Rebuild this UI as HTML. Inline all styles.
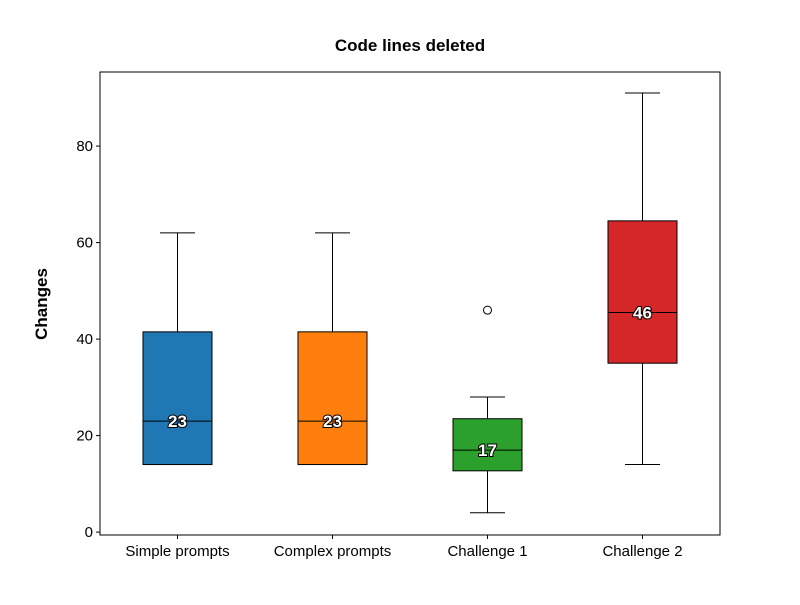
<!DOCTYPE html>
<html><head><meta charset="utf-8"><style>
body{margin:0;background:#fff;}
text{font-family:"Liberation Sans",Arial,sans-serif;}
</style></head><body>
<svg id="chart" width="800" height="600" xmlns="http://www.w3.org/2000/svg">
<rect width="800" height="600" fill="#fff"/>
<text x="410" y="51" text-anchor="middle" font-size="17" font-weight="bold">Code lines deleted</text>
<text transform="translate(47,304) rotate(-90)" text-anchor="middle" font-size="17" font-weight="bold">Changes</text>
<g id="plot"></g>
</svg>
<script>
const categories=["Simple prompts","Complex prompts","Challenge 1","Challenge 2"];
const whiskerLow=[14,14,4,14];
const q1=[14,14,12.7,35];
const medians=[23,23,17,45.5];
const q3=[41.5,41.5,23.5,64.5];
const whiskerHigh=[62,62,28,91];
const medianLabels=["23","23","17","46"];
const outliers=[[],[],[46],[]];
const colors=["#1f77b4","#ff7f0e","#2ca02c","#d62728"];
const yTicks=[0,20,40,60,80];

const L=100,R=720,T=72,B=535,ymin=-0.6,ymax=95.35;
const ys=v=>B-(v-ymin)/(ymax-ymin)*(B-T);
const step=(R-L)/categories.length;
const xs=i=>L+step*(i+0.5);
const NS="http://www.w3.org/2000/svg";
const g=document.getElementById('plot');
function mk(tag,attrs){const e=document.createElementNS(NS,tag);for(const k in attrs)e.setAttribute(k,attrs[k]);g.appendChild(e);return e;}
const bw=69,cw=35;
categories.forEach((c,i)=>{
  const x=xs(i);
  let e=mk('line',{x1:x,x2:x,y1:ys(whiskerLow[i]),y2:ys(q1[i]),stroke:'#000'});
  
  
  e=mk('line',{x1:x,x2:x,y1:ys(q3[i]),y2:ys(whiskerHigh[i]),stroke:'#000'});
  
  
  e=mk('line',{x1:x-cw/2,x2:x+cw/2,y1:ys(whiskerLow[i]),y2:ys(whiskerLow[i]),stroke:'#000'});
  
  
  e=mk('line',{x1:x-cw/2,x2:x+cw/2,y1:ys(whiskerHigh[i]),y2:ys(whiskerHigh[i]),stroke:'#000'});
  
  
  e=mk('rect',{x:x-bw/2,y:ys(q3[i]),width:bw,height:ys(q1[i])-ys(q3[i]),fill:colors[i],stroke:'#000'});
  
  
  e=mk('line',{x1:x-bw/2,x2:x+bw/2,y1:ys(medians[i]),y2:ys(medians[i]),stroke:'#000'});
  
  
  outliers[i].forEach(o=>{
    const p=mk('circle',{cx:x,cy:ys(o),r:4,fill:'none',stroke:'#000'});
    
    
  });
  e=mk('text',{x:x,y:ys(medians[i])+6,'text-anchor':'middle','font-size':17,'font-weight':'bold',fill:'#fff',stroke:'#000','stroke-width':2,'paint-order':'stroke'});
  e.textContent=medianLabels[i];
  
  
  e=mk('line',{x1:x,x2:x,y1:B,y2:B+4,stroke:'#000'});
  
  
  e=mk('text',{x:x,y:B+21,'text-anchor':'middle','font-size':15});
  e.textContent=c;
  
  
});
yTicks.forEach(t=>{
  let e=mk('line',{x1:L-4,x2:L,y1:ys(t),y2:ys(t),stroke:'#000'});
  
  
  e=mk('text',{x:L-7,y:ys(t)+5,'text-anchor':'end','font-size':15});
  e.textContent=t;
  
  
});
const fr=mk('rect',{x:L,y:T,width:R-L,height:B-T,fill:'none',stroke:'#000'});


</script>
</body></html>
